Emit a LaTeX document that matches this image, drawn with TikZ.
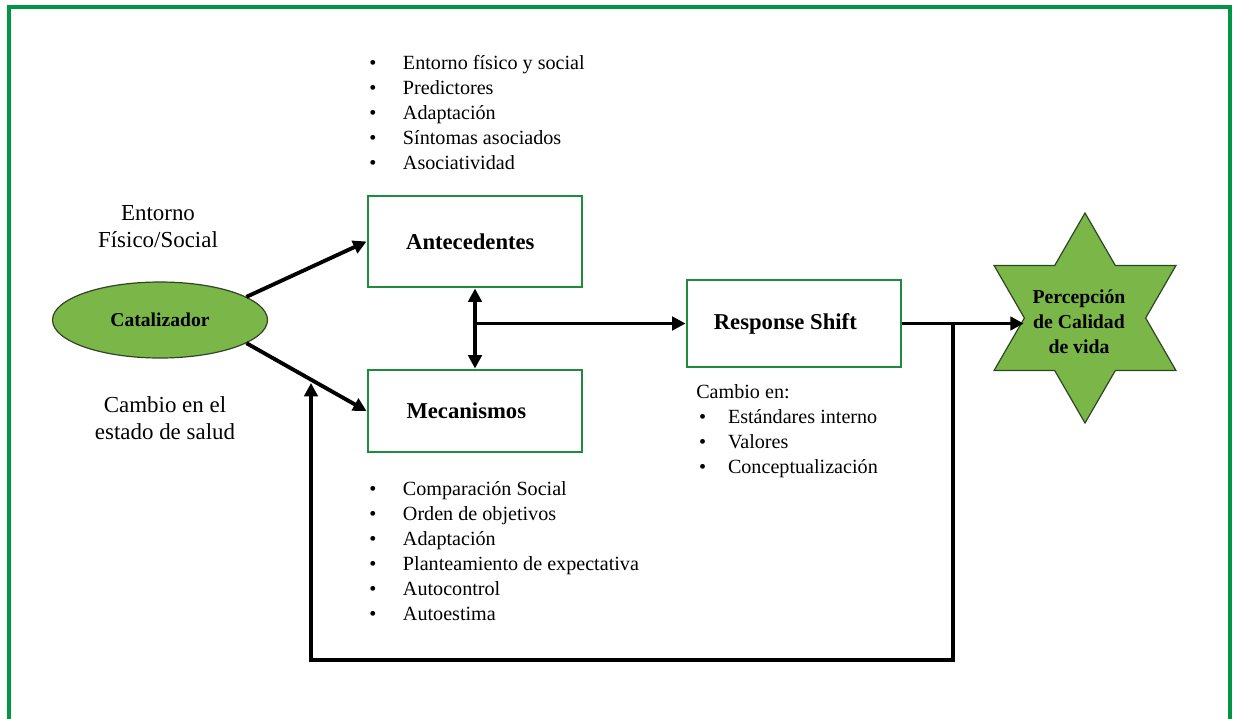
\documentclass[tikz,border=0pt]{standalone}
\usepackage{fontspec}
\setmainfont{Liberation Serif}
\usetikzlibrary{shapes.geometric,arrows.meta}
\definecolor{framegreen}{RGB}{0,150,70}
\definecolor{boxgreen}{RGB}{30,140,60}
\definecolor{fillgreen}{RGB}{122,182,72}
\definecolor{edgegreen}{RGB}{45,70,35}
\newcommand{\bl}{\makebox[25.3pt][l]{•}}
\newcommand{\blr}{\hspace*{2.2pt}\makebox[21.6pt][l]{•}}
\begin{document}
\begin{tikzpicture}[x=0.75pt,y=-0.75pt,
  box/.style={draw=boxgreen,line width=2.2pt,fill=white,inner sep=0pt,
    font=\fontsize{17}{20}\selectfont\bfseries},
  greenshape/.style={fill=fillgreen,draw=edgegreen,line width=0.9pt,inner sep=0pt},
  conn/.style={line width=2.9pt,draw=black,line join=miter},
  tip/.style={-{Triangle[length=10pt,width=10pt]}},
  dtip/.style={{Triangle[length=10pt,width=10pt]}-{Triangle[length=10pt,width=10pt]}},
  bodytext/.style={font=\fontsize{15.1}{18.75}\selectfont,inner sep=0pt},
  sidetext/.style={font=\fontsize{17.2}{20.25}\selectfont,inner sep=0pt,align=center}
]
\useasboundingbox (0,0) rectangle (1237,718);
% outer frame
\draw[framegreen,line width=3pt,line join=miter] (9,725) -- (9,7) -- (1230,7) -- (1230,725);

% nodes
\node[box,minimum width=160.5pt,minimum height=68.25pt] (ante) at (475,241.5) {Antecedentes\hspace*{7pt}};
\node[box,minimum width=160.5pt,minimum height=61.5pt] (mech) at (475,411) {Mecanismos\hspace*{13pt}};
\node[box,minimum width=160.5pt,minimum height=65.25pt] (rs) at (794,323.5) {Response Shift\hspace*{13pt}};
\node[greenshape,ellipse,minimum width=161.25pt,minimum height=57pt,
  font=\fontsize{14.7}{17}\selectfont\bfseries] (cat) at (160,320) {Catalizador};
\node[greenshape,star,star points=6,star point ratio=1.732,minimum size=157.5pt] (star) at (1085,318) {};
\node[align=center,inner sep=0pt,font=\fontsize{14.8}{18.75}\selectfont\bfseries] (startext) at (1079,322)
  {Percepción\\de Calidad\\de vida};

% side texts
\node[sidetext] (env) at (158,227) {Entorno\\Físico/Social};
\node[sidetext] (health) at (165,418) {Cambio en el\\estado de salud};

% lists
\node[bodytext,anchor=west,align=left] (antelist) at (369,113)
  {\bl Entorno físico y social\\\bl Predictores\\\bl Adaptación\\\bl Síntomas asociados\\\bl Asociatividad};
\node[bodytext,anchor=west,align=left] (mechlist) at (369,551.5)
  {\bl Comparación Social\\\bl Orden de objetivos\\\bl Adaptación\\\bl Planteamiento de expectativa\\\bl Autocontrol\\\bl Autoestima};
\node[bodytext,anchor=west,align=left] (rslist) at (696,431.5)
  {Cambio en:\\\blr Estándares interno\\\blr Valores\\\blr Conceptualización};

% connectors
\draw[conn,tip] (cat.15) -- (ante.west);
\draw[conn,tip] (cat.-15) -- (mech.west);
\draw[conn,dtip] (ante.south) -- (mech.north);
\coordinate (j0) at (ante.south |- rs.west);
\draw[conn,tip] (j0) -- (rs.west);
\draw[conn,tip] (rs.east) -- (rs.east -| star.west);
\coordinate (xj) at (953,0);
\coordinate (j1) at (rs.east -| xj);
\coordinate (c1) at (953,660);
\coordinate (c2) at (311,660);
\coordinate (fbtip) at (311,383);
\draw[conn,tip] (j1) -- (c1) -- (c2) -- (fbtip);
\end{tikzpicture}
\end{document}
